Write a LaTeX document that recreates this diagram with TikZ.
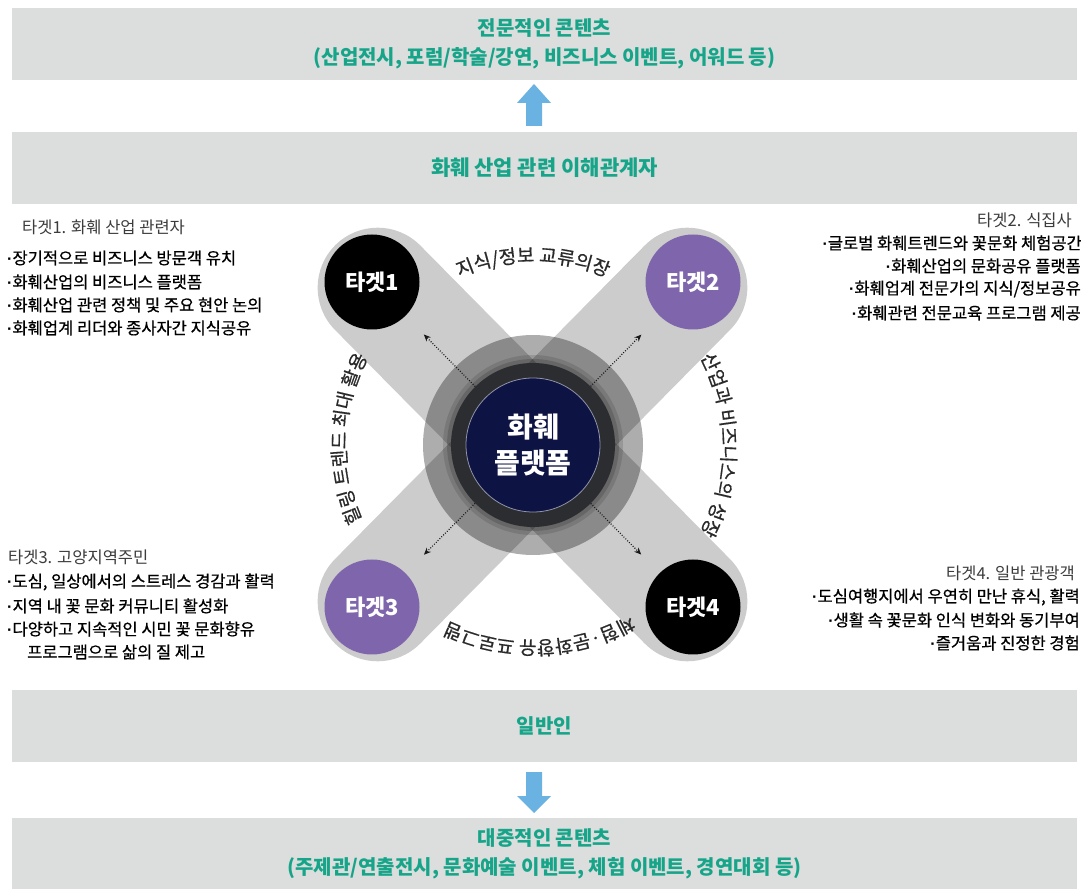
\documentclass[tikz,border=0pt]{standalone}
\usepackage{fontspec}
\setmainfont{Noto Sans CJK KR}
\newfontfamily\itemf[FakeBold=0.6]{Noto Sans CJK KR}
\newfontfamily\latf{Liberation Sans}
\usetikzlibrary{calc,arrows.meta,decorations.text}
\definecolor{boxgray}{HTML}{DCDDDD}
\definecolor{tealtxt}{HTML}{17A589}
\definecolor{arrowblue}{HTML}{6AB2E2}
\definecolor{purp}{HTML}{7F66AC}
\definecolor{navy}{HTML}{0D1342}
\definecolor{ringc}{HTML}{2B2D30}
\definecolor{arctxt}{HTML}{2A2A2A}
\definecolor{headtxt}{HTML}{3C3C3C}
\newcommand\arcfont{\itemf\fontsize{19}{19}\selectfont}
\newcommand\bul{{\latf\bfseries\fontsize{16}{16}\selectfont\textperiodcentered}}
\begin{document}
\begin{tikzpicture}[x=1pt,y=1pt,
  banner/.style={fill=boxgray, draw=none, minimum width=1065pt, minimum height=72pt, inner sep=0pt,
    text=tealtxt, font=\bfseries\fontsize{20}{29}\selectfont, align=center},
  bandline/.style={line width=120pt, line cap=round, draw=black, draw opacity=0.2},
  target/.style={circle, minimum size=95pt, inner sep=0pt, text=white, font=\bfseries\fontsize{22}{22}\selectfont},
  dotarrow/.style={draw=black!90, line width=1.2pt, dash pattern=on 0.9pt off 1.7pt, -{Stealth[length=7pt,width=6pt]}, shorten >=26pt},
  head/.style={text=headtxt, font=\fontsize{16.5}{16.5}\selectfont, inner sep=0pt},
  item/.style={text=black, font=\itemf\fontsize{16.5}{16.5}\selectfont, inner sep=0pt},
  arctext/.style={decorate, decoration={text along path, text align=center, text color=arctxt, text={|\arcfont|#1}}}
]
\useasboundingbox (0,0) rectangle (1081,889);
\fill[white] (0,0) rectangle (1081,889);

% banners
\node[banner] (top1) at (544.5,845) {전문적인 콘텐츠\\(산업전시, 포럼/학술/강연, 비즈니스 이벤트, 어워드 등)};
\node[banner, font=\bfseries\fontsize{21}{21}\selectfont] (top2) at (544.5,721) {화훼 산업 관련 이해관계자};
\node[banner] (bot1) at (544.5,163) {일반인};
\node[banner, minimum height=71pt] (bot2) at (544.5,35.5) {대중적인 콘텐츠\\(주제관/연출전시, 문화예술 이벤트, 체험 이벤트, 경연대회 등)};

% blue block arrows
\coordinate (upS) at (534,763);
\coordinate (upE) at (534,805);
\fill[arrowblue] ($(upS)+(-8,0)$) -- ($(upS)+(-8,23)$) -- ($(upS)+(-17,23)$) -- (upE) -- ($(upS)+(17,23)$) -- ($(upS)+(8,23)$) -- ($(upS)+(8,0)$) -- cycle;
\coordinate (dnS) at (534,117);
\coordinate (dnE) at (534,76);
\fill[arrowblue] ($(dnS)+(-8,0)$) -- ($(dnS)+(-8,-24)$) -- ($(dnS)+(-17,-24)$) -- (dnE) -- ($(dnS)+(17,-24)$) -- ($(dnS)+(8,-24)$) -- ($(dnS)+(8,0)$) -- cycle;

% centre geometry
\coordinate (C) at (533,444);
\coordinate (c1) at (372,607);
\coordinate (c2) at (693,607);
\coordinate (c3) at (372,282);
\coordinate (c4) at (693,282);
\draw[bandline] ($(c1)!8pt!(c4)$) -- ($(c4)!8pt!(c1)$);
\draw[bandline] ($(c2)!8pt!(c3)$) -- ($(c3)!8pt!(c2)$);
\fill[black, fill opacity=0.32] (C) circle[radius=110];
\fill[black, fill opacity=0.12] (C) circle[radius=90];
\fill[black, fill opacity=0.15] (C) circle[radius=86];
\node[circle, fill=ringc, minimum size=164pt, inner sep=0pt] (ring) at (C) {};
\node[circle, fill=navy, draw=white!55!navy, line width=0.8pt, minimum size=134pt, inner sep=0pt,
  text=white, font=\bfseries\fontsize{28}{36}\selectfont, align=center] (hub) at (C) {화훼\\플랫폼};

\node[target, fill=black] (T1) at (c1) {타겟1};
\node[target, fill=purp] (T2) at (c2) {타겟2};
\node[target, fill=purp] (T3) at (c3) {타겟3};
\node[target, fill=black] (T4) at (c4) {타겟4};

\draw[dotarrow] (ring) -- (T1);
\draw[dotarrow] (ring) -- (T2);
\draw[dotarrow] (ring) -- (T3);
\draw[dotarrow] (ring) -- (T4);

% curved labels
\path[arctext={지식/정보 교류의장}] ($(C)+(135:183)$) arc[start angle=135, end angle=45, radius=183];
\path[arctext={산업과 비즈니스의 성장}] ($(C)+(45:189)$) arc[start angle=45, end angle=-45, radius=189];
\path[arctext={체험·문화향유 프로그램}] ($(C)+(-43:196)$) arc[start angle=-43, end angle=-133, radius=196];
\path[arctext={힐링 트렌드 최대 활용}] ($(C)+(223:187)$) arc[start angle=223, end angle=133, radius=187];

% target 1 text
\node[head, anchor=west] (h1) at (22,662) {타겟1. 화훼 산업 관련자};
\node[item, anchor=west] (i11) at (7,631) {\bul 장기적으로 비즈니스 방문객 유치};
\node[item, anchor=west] (i12) at (7,607) {\bul 화훼산업의 비즈니스 플랫폼};
\node[item, anchor=west] (i13) at (7,584) {\bul 화훼산업 관련 정책 및 주요 현안 논의};
\node[item, anchor=west] (i14) at (7,561) {\bul 화훼업계 리더와 종사자간 지식공유};

% target 2 text
\node[head, anchor=east] (h2) at (1072,669) {타겟2. 식집사};
\node[item, anchor=east] (i21) at (1082,646) {\bul 글로벌 화훼트렌드와 꽃문화 체험공간};
\node[item, anchor=east] (i22) at (1081,623) {\bul 화훼산업의 문화공유 플랫폼};
\node[item, anchor=east] (i23) at (1081,600) {\bul 화훼업계 전문가의 지식/정보공유};
\node[item, anchor=east] (i24) at (1081,576) {\bul 화훼관련 전문교육 프로그램 제공};

% target 3 text
\node[head, anchor=west] (h3) at (8,332) {타겟3. 고양지역주민};
\node[item, anchor=west] (i31) at (7,307) {\bul 도심, 일상에서의 스트레스 경감과 활력};
\node[item, anchor=west] (i32) at (7,283) {\bul 지역 내 꽃 문화 커뮤니티 활성화};
\node[item, anchor=west] (i33) at (7,260) {\bul 다양하고 지속적인 시민 꽃 문화향유};
\node[item, anchor=west] (i34) at (27,237) {프로그램으로 삶의 질 제고};

% target 4 text
\node[head, anchor=east] (h4) at (1075,316) {타겟4. 일반 관광객};
\node[item, anchor=east] (i41) at (1080,292) {\bul 도심여행지에서 우연히 만난 휴식, 활력};
\node[item, anchor=east] (i42) at (1080,269) {\bul 생활 속 꽃문화 인식 변화와 동기부여};
\node[item, anchor=east] (i43) at (1080,246) {\bul 즐거움과 진정한 경험};
\end{tikzpicture}
\end{document}
